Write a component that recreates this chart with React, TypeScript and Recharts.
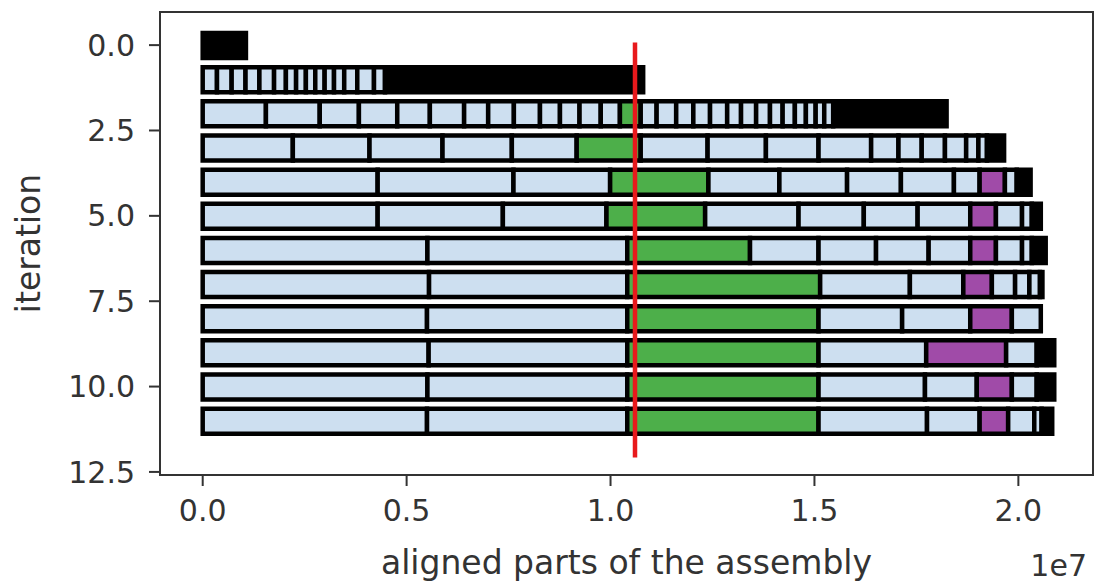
import React from 'react';
import { BarChart, Bar, Cell, XAxis, YAxis, ReferenceLine, ReferenceArea, Label } from 'recharts';

const ITERATIONS = [0, 1, 2, 3, 4, 5, 6, 7, 8, 9, 10, 11];

// cumulative end of every aligned part per iteration, in Mbp (axis shows 1e7)
const ENDS_0 = [1.06];
const ENDS_1 = [0.35, 0.71, 1.05, 1.39, 1.75, 2.04, 2.29, 2.53, 2.76, 2.99, 3.22, 3.47, 3.79, 4.2, 4.47, 10.8];
const ENDS_2 = [
  1.55, 2.87, 3.83, 4.77, 5.57, 6.41, 7.0, 7.63, 8.27, 8.76, 9.24, 9.76, 10.23, 10.74, 11.13, 11.61, 12.03,
  12.44, 12.86, 13.2, 13.57, 13.91, 14.22, 14.52, 14.79, 15.03, 15.24, 15.46, 18.24,
];
const ENDS_3 = [2.21, 4.09, 5.88, 7.58, 9.17, 10.74, 12.38, 13.81, 15.1, 16.39, 17.06, 17.63, 18.2, 18.72, 19.02, 19.23, 19.65];
const ENDS_4 = [4.29, 7.62, 9.99, 12.4, 14.14, 15.8, 17.12, 18.42, 19.05, 19.67, 19.96, 20.3];
const ENDS_5 = [4.29, 7.36, 9.9, 12.32, 14.61, 16.21, 17.53, 18.82, 19.45, 20.09, 20.33, 20.55];
const ENDS_6 = [5.51, 10.41, 13.42, 15.1, 16.51, 17.8, 18.82, 19.45, 20.09, 20.33, 20.67];
const ENDS_7 = [5.55, 10.41, 15.14, 17.34, 18.65, 19.35, 19.92, 20.27, 20.53, 20.59];
const ENDS_8 = [5.5, 10.41, 15.1, 17.15, 18.82, 19.84, 20.55];
const ENDS_9 = [5.54, 10.41, 15.1, 17.74, 19.7, 20.45, 20.88];
const ENDS_10 = [5.51, 10.41, 15.1, 17.71, 18.98, 19.84, 20.45, 20.88];
const ENDS_11 = [5.5, 10.41, 15.1, 17.76, 19.05, 19.75, 20.39, 20.57, 20.83];

// part kind per segment: L = plain, G = green, P = purple, K = many tiny parts (black)
const KINDS_0 = 'K';
const KINDS_1 = 'LLLLLLLLLLLLLLLK';
const KINDS_2 = 'LLLLLLLLLLLLLGLLLLLLLLLLLLLLK';
const KINDS_3 = 'LLLLLGLLLLLLLLLLK';
const KINDS_4 = 'LLLGLLLLLPLK';
const KINDS_5 = 'LLLGLLLLPLLK';
const KINDS_6 = 'LLGLLLLPLLK';
const KINDS_7 = 'LLGLLPLLLK';
const KINDS_8 = 'LLGLLPL';
const KINDS_9 = 'LLGLPLK';
const KINDS_10 = 'LLGLLPLK';
const KINDS_11 = 'LLGLLPLLK';

const ROW_ENDS = [ENDS_0, ENDS_1, ENDS_2, ENDS_3, ENDS_4, ENDS_5, ENDS_6, ENDS_7, ENDS_8, ENDS_9, ENDS_10, ENDS_11];
const ROW_KINDS = [KINDS_0, KINDS_1, KINDS_2, KINDS_3, KINDS_4, KINDS_5, KINDS_6, KINDS_7, KINDS_8, KINDS_9, KINDS_10, KINDS_11];

const X_TICKS = [0, 5, 10, 15, 20];
const Y_TICKS = [0, 2.5, 5, 7.5, 10, 12.5];
const CUT_POS = 10.6;

const COLORS: Record<string, string> = { L: '#cddff0', G: '#4daf4a', P: '#a04ba8', K: '#000000' };
const FONT = 'DejaVu Sans';
const TEXT = '#333333';

const data = ITERATIONS.map((iter, r) => {
  const row: Record<string, number> = { iter };
  ROW_ENDS[r].forEach((end, k) => {
    row['s' + k] = end - (k ? ROW_ENDS[r][k - 1] : 0);
  });
  return row;
});

const maxSegs = Math.max(...ROW_ENDS.map((r) => r.length));
const segKeys = Array.from({ length: maxSegs }, (_, k) => 's' + k);

export default function App() {
  return (
    <div style={{ position: 'absolute', left: 0, top: 0, width: 1096, height: 582, background: '#fff' }}>
      <BarChart
        width={1096}
        height={582}
        data={data}
        layout="vertical"
        barSize={25}
        margin={{ top: 12, right: 3, bottom: 0, left: 0 }}
      >
        <XAxis
          type="number"
          domain={[-1.047, 21.83]}
          allowDataOverflow
          ticks={X_TICKS}
          tickFormatter={(v: number) => (v / 10).toFixed(1)}
          height={107}
          axisLine={false}
          tickSize={11}
          tickMargin={14}
          tickLine={{ stroke: TEXT, strokeWidth: 2 }}
          tick={{ fill: TEXT, fontSize: 30, fontFamily: FONT }}
        >
          <Label
            value="aligned parts of the assembly"
            position="insideBottom"
            offset={8}
            style={{ fontSize: 33, fill: TEXT, fontFamily: FONT }}
          />
          <Label value="1e7" position="insideBottomRight" offset={6} style={{ fontSize: 30, fill: TEXT, fontFamily: FONT }} />
        </XAxis>
        <YAxis
          type="number"
          dataKey="iter"
          domain={[-0.97, 12.59]}
          allowDataOverflow
          ticks={Y_TICKS}
          tickFormatter={(v: number) => v.toFixed(1)}
          width={160}
          axisLine={false}
          tickSize={11}
          tickMargin={14}
          tickLine={{ stroke: TEXT, strokeWidth: 2 }}
          tick={{ fill: TEXT, fontSize: 30, fontFamily: FONT }}
        >
          <Label
            value="iteration"
            angle={-90}
            position="insideLeft"
            offset={28}
            style={{ fontSize: 33, fill: TEXT, fontFamily: FONT, textAnchor: 'middle' }}
          />
        </YAxis>
        {segKeys.map((key, k) => (
          <Bar key={key} dataKey={key} stackId="a" stroke="#000" strokeWidth={4.5} isAnimationActive={false}>
            {data.map((_, r) => (
              <Cell key={r} fill={COLORS[ROW_KINDS[r][k]] ?? '#000'} />
            ))}
          </Bar>
        ))}
        <ReferenceLine
          segment={[
            { x: CUT_POS, y: -0.08 },
            { x: CUT_POS, y: 12.08 },
          ]}
          stroke="#e8191c"
          strokeWidth={4.5}
          ifOverflow="visible"
        />
        <ReferenceArea
          x1={-1.047}
          x2={21.83}
          y1={-0.97}
          y2={12.59}
          fill="none"
          stroke={TEXT}
          strokeWidth={2}
          ifOverflow="visible"
        />
      </BarChart>
    </div>
  );
}
